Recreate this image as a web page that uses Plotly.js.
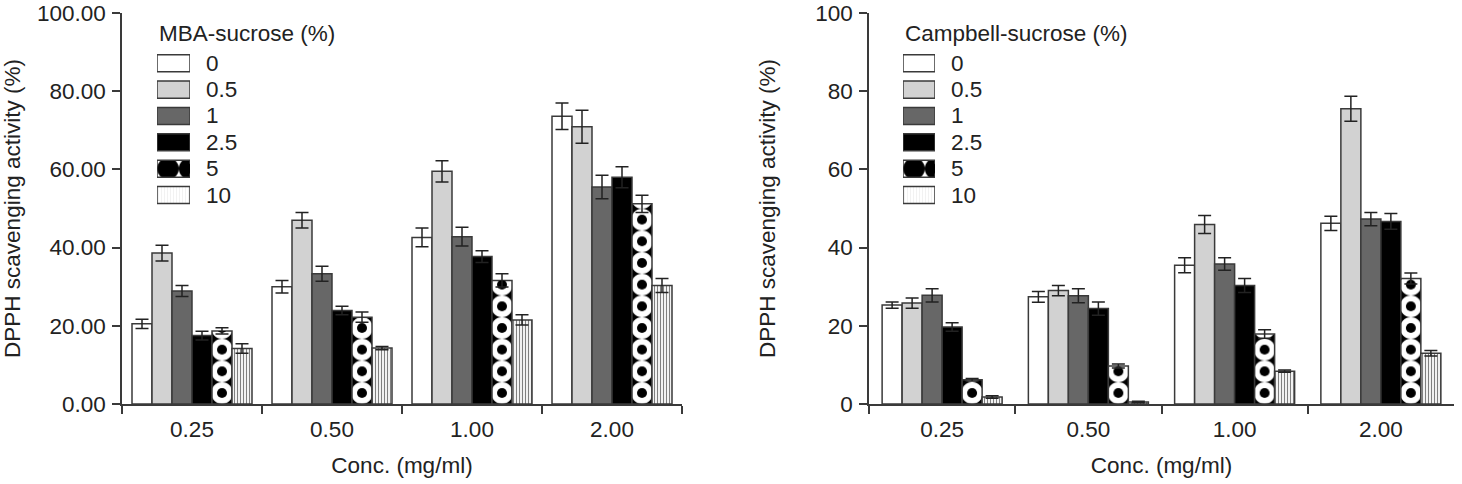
<!DOCTYPE html>
<html>
<head>
<meta charset="utf-8">
<script src="https://cdn.plot.ly/plotly-3.0.1.min.js"></script>
<style>
  html, body { margin: 0; padding: 0; background: #ffffff; }
  #chart { width: 1462px; height: 484px; }
</style>
</head>
<body>
<div id="chart"></div>
<script>
// Concentration groups and sucrose levels
const conc = ['0.25', '0.50', '1.00', '2.00'];
const sucrose = ['0', '0.5', '1', '2.5', '5', '10'];
const yTicks = [0, 20, 40, 60, 80, 100];

// MBA-sucrose: DPPH scavenging activity (%) per sucrose level, with error
const mba0 = [20.5, 30.0, 42.6, 73.6];
const mba05 = [38.6, 47.0, 59.5, 70.9];
const mba1 = [28.9, 33.3, 42.8, 55.5];
const mba25 = [17.5, 23.9, 37.7, 58.0];
const mba5 = [18.7, 22.2, 31.6, 51.2];
const mba10 = [14.2, 14.3, 21.5, 30.3];
const mbaErr0 = [1.2, 1.6, 2.4, 3.4];
const mbaErr05 = [2.0, 2.0, 2.7, 4.2];
const mbaErr1 = [1.4, 1.9, 2.4, 3.0];
const mbaErr25 = [1.1, 1.1, 1.5, 2.7];
const mbaErr5 = [0.8, 1.3, 1.7, 2.2];
const mbaErr10 = [1.2, 0.4, 1.3, 1.8];

// Campbell-sucrose: DPPH scavenging activity (%) per sucrose level, with error
const cam0 = [25.3, 27.4, 35.5, 46.2];
const cam05 = [25.8, 29.0, 45.9, 75.5];
const cam1 = [27.8, 27.7, 35.8, 47.3];
const cam25 = [19.7, 24.4, 30.3, 46.7];
const cam5 = [6.2, 9.7, 17.9, 32.1];
const cam10 = [1.8, 0.5, 8.4, 13.0];
const camErr0 = [0.8, 1.4, 1.9, 1.8];
const camErr05 = [1.3, 1.3, 2.3, 3.2];
const camErr1 = [1.7, 1.8, 1.6, 1.7];
const camErr25 = [1.1, 1.7, 1.8, 2.0];
const camErr5 = [0.3, 0.5, 1.1, 1.4];
const camErr10 = [0.3, 0.2, 0.3, 0.7];

const mbaSeries = [mba0, mba05, mba1, mba25, mba5, mba10];
const mbaErrors = [mbaErr0, mbaErr05, mbaErr1, mbaErr25, mbaErr5, mbaErr10];
const camSeries = [cam0, cam05, cam1, cam25, cam5, cam10];
const camErrors = [camErr0, camErr05, camErr1, camErr25, camErr5, camErr10];

// ---- page geometry ----
const W = 1462, H = 484;
const M = { l: 122, r: 8, t: 13, b: 80 };
const plotW = W - M.l - M.r;
const plotH = H - M.t - M.b;
const leftPx = [122, 682];
const rightPx = [869, 1454];
const domX = px => [(px[0] - M.l) / plotW, (px[1] - M.l) / plotW];
const paperY = px => (H - M.b - px) / plotH;

const FONT = 'Liberation Sans, Arial, Helvetica, sans-serif';
const FS = 22.5;
const INK = '#222222';
const EDGE = '#3a3a3a';
const BAR_PX = 20;

// fills
const FILLS = ['#ffffff', '#d2d2d2', '#676767', '#000000'];
const RING_SIZE = 21.67;
const RING = { shape: '.', bgcolor: '#000000', fgcolor: '#ffffff', solidity: 0.7854 };
const DOT = { shape: '.', bgcolor: 'rgba(0,0,0,0)', fgcolor: '#000000', solidity: 0.167 };
const STRIPE = { shape: '|', bgcolor: '#f2f2f2', fgcolor: '#808080', size: 3, solidity: 0.34 };
const RING_BASE = 11;   // first dot centre above the bar base
const RING_LEFT = 11;   // dot centre from swatch left edge

function errY(arr) {
  return { type: 'data', array: arr, visible: true, color: INK, thickness: 1.5, width: 6.5 };
}

function panelTraces(series, errors, xa, ya, catPx, tag) {
  const w = BAR_PX / catPx;
  const out = [];
  series.forEach((vals, j) => {
    const base = {
      type: 'bar', x: conc, y: vals, xaxis: xa, yaxis: ya,
      width: w, offset: -3 * w + j * w,
      name: sucrose[j], showlegend: false, hoverinfo: 'skip'
    };
    if (j < 4) {
      out.push(Object.assign(base, {
        marker: { color: FILLS[j], line: { color: EDGE, width: 1.5 } },
        error_y: errY(errors[j])
      }));
    } else if (j === 4) {
      out.push(Object.assign(base, {
        uid: 'ring' + tag,
        marker: {
          color: '#000000', line: { color: EDGE, width: 1.5 },
          pattern: Object.assign({}, RING, { size: vals.map(() => RING_SIZE) })
        }
      }));
      out.push({
        type: 'bar', x: conc, y: vals, xaxis: xa, yaxis: ya,
        width: w, offset: -3 * w + j * w, uid: 'dot' + tag,
        name: sucrose[j], showlegend: false, hoverinfo: 'skip',
        marker: {
          color: 'rgba(0,0,0,0)', line: { width: 0 },
          pattern: Object.assign({}, DOT, { size: vals.map(() => RING_SIZE) })
        },
        error_y: errY(errors[j])
      });
    } else {
      out.push(Object.assign(base, {
        marker: { color: STRIPE.bgcolor, line: { color: EDGE, width: 1.5 }, pattern: STRIPE },
        error_y: errY(errors[j])
      }));
    }
  });
  return out;
}

// legend swatches as small horizontal bars
const SW_THICK = 17 / 26.34;
function legendTraces(xa, ya, tag) {
  return [{
    type: 'bar', orientation: 'h', y: sucrose, x: sucrose.map(() => 1),
    xaxis: xa, yaxis: ya, width: SW_THICK, uid: 'lgring' + tag,
    showlegend: false, hoverinfo: 'skip',
    marker: {
      color: FILLS.concat(['#000000', STRIPE.bgcolor]),
      line: { color: EDGE, width: 1.5 },
      pattern: {
        shape: ['', '', '', '', '.', '|'],
        bgcolor: FILLS.concat(['#000000', STRIPE.bgcolor]),
        fgcolor: FILLS.concat(['#ffffff', STRIPE.fgcolor]),
        size: [8, 8, 8, 8, RING_SIZE, STRIPE.size],
        solidity: [0.3, 0.3, 0.3, 0.3, RING.solidity, STRIPE.solidity]
      }
    }
  }, {
    type: 'bar', orientation: 'h', y: [sucrose[4]], x: [1],
    xaxis: xa, yaxis: ya, width: SW_THICK, uid: 'lgdot' + tag,
    showlegend: false, hoverinfo: 'skip',
    marker: {
      color: 'rgba(0,0,0,0)', line: { width: 0 },
      pattern: Object.assign({}, DOT, { size: [RING_SIZE] })
    }
  }];
}

const leftCat = (leftPx[1] - leftPx[0]) / conc.length;
const rightCat = (rightPx[1] - rightPx[0]) / conc.length;

const data = []
  .concat(panelTraces(mbaSeries, mbaErrors, 'x', 'y', leftCat, 'A'))
  .concat(panelTraces(camSeries, camErrors, 'x2', 'y2', rightCat, 'B'))
  .concat(legendTraces('x3', 'y3', 'A'))
  .concat(legendTraces('x4', 'y4', 'B'));

const tickFont = { family: FONT, size: FS, color: INK };
const titleFont = { family: FONT, size: FS, color: INK };

function catAxis(domain, anchor) {
  return {
    domain: domain, anchor: anchor, type: 'category',
    categoryorder: 'array', categoryarray: conc, range: [-0.5, conc.length - 0.5],
    tickson: 'boundaries', ticks: 'outside', ticklen: 8, tickwidth: 1.5, tickcolor: EDGE,
    showline: true, linecolor: EDGE, linewidth: 1.5, showgrid: false, zeroline: false,
    tickfont: tickFont, ticklabelstandoff: 4, fixedrange: true,
    title: { text: 'Conc. (mg/ml)', font: titleFont, standoff: 16 }
  };
}
function valAxis(anchor, fmt, standoff) {
  return {
    anchor: anchor, range: [0, 100.001], tickmode: 'array', tickvals: yTicks, tickformat: fmt,
    ticks: 'outside', ticklen: 8, tickwidth: 1.5, tickcolor: EDGE,
    showline: true, linecolor: EDGE, linewidth: 1.5, showgrid: false, zeroline: false,
    tickfont: tickFont, ticklabelstandoff: 2, ticklabeloverflow: 'allow', fixedrange: true,
    title: { text: 'DPPH scavenging activity (%)', font: titleFont, standoff: standoff }
  };
}
function swatchX(px, anchor) {
  return { domain: domX(px), anchor: anchor, range: [0, 1], visible: false, fixedrange: true };
}
function swatchY(anchor) {
  return {
    domain: [paperY(208.2), paperY(50.1)], anchor: anchor, type: 'category',
    categoryorder: 'array', categoryarray: sucrose, range: [sucrose.length - 0.5, -0.5],
    visible: false, fixedrange: true
  };
}

const annotations = [];
function legendText(xa, ya, title) {
  annotations.push({
    xref: xa, yref: 'paper', x: 0, y: paperY(33), xanchor: 'left', yanchor: 'middle',
    text: title, showarrow: false, font: titleFont
  });
  // category positions are given by index
  sucrose.forEach((s, i) => annotations.push({
    xref: xa, yref: ya, x: 1, y: i, xanchor: 'left', yanchor: 'middle', xshift: 14,
    text: s, showarrow: false, font: titleFont
  }));
}
legendText('x3', 'y3', 'MBA-sucrose (%)');
legendText('x4', 'y4', 'Campbell-sucrose (%)');

const layout = {
  width: W, height: H, margin: M,
  paper_bgcolor: '#ffffff', plot_bgcolor: 'rgba(0,0,0,0)',
  font: { family: FONT, size: FS, color: INK },
  showlegend: false, barmode: 'overlay',
  xaxis: catAxis(domX(leftPx), 'y'),
  yaxis: valAxis('x', '.2f', 25),
  xaxis2: catAxis(domX(rightPx), 'y2'),
  yaxis2: valAxis('x2', 'd', 33),
  xaxis3: swatchX([157, 190], 'y3'),
  yaxis3: swatchY('x3'),
  xaxis4: swatchX([903, 935], 'y4'),
  yaxis4: swatchY('x4'),
  annotations: annotations
};

// centre the ring/dot pattern tiles on each patterned bar
const anchorMode = {
  ringA: 'column', dotA: 'column', ringB: 'column', dotB: 'column',
  lgringA: 'swatch', lgdotA: 'swatch', lgringB: 'swatch', lgdotB: 'swatch'
};
function alignPatterns(gd) {
  const pats = Array.from(gd.querySelectorAll('pattern'));
  (gd.calcdata || []).forEach(cd => {
    const trace = cd[0].trace;
    const mode = anchorMode[trace.uid];
    if (!mode || !cd[0].node3) return;
    cd[0].node3.node().querySelectorAll('g.point').forEach(pt => {
      const d = pt.__data__;
      const path = pt.querySelector('path');
      if (!d || !path) return;
      const pat = pats.find(p => p.id.endsWith('-' + trace.uid + '-' + d.i));
      if (!pat || !pat.querySelector('circle')) return;
      const s = parseFloat(pat.getAttribute('width'));
      const bb = path.getBBox();
      let cx, cy;
      if (mode === 'column') { cx = bb.x + bb.width / 2; cy = bb.y + bb.height - RING_BASE; }
      else { cx = bb.x + RING_LEFT; cy = bb.y + bb.height / 2; }
      pat.setAttribute('x', cx - s / 2);
      pat.setAttribute('y', cy - s / 2);
    });
  });
}

Plotly.newPlot('chart', data, layout, { displayModeBar: false, responsive: false })
  .then(alignPatterns);
</script>
</body>
</html>
